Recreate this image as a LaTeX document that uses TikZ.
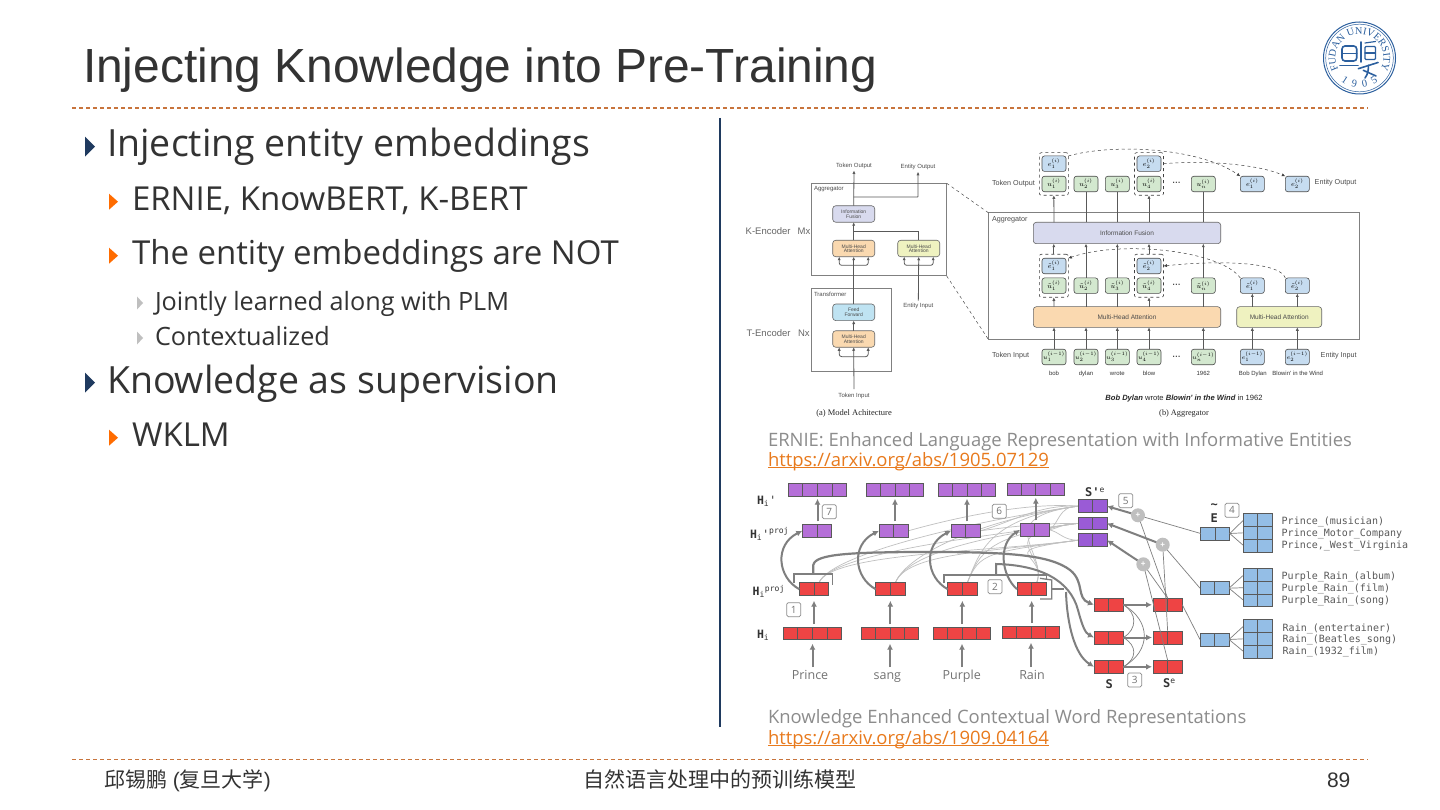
\documentclass[tikz,border=0pt]{standalone}
\usepackage[no-math]{fontspec}
\setmainfont{Open Sans}
\newfontfamily\liber{Liberation Sans}
\newfontfamily\lserif{Liberation Serif}
\newfontfamily\dmono{DejaVu Sans Mono}
\newfontfamily\cjk{Noto Sans CJK SC}
\usetikzlibrary{arrows.meta,calc,backgrounds,decorations.text,shapes.geometric}
\definecolor{ink}{HTML}{333333}
\definecolor{navy}{HTML}{1F3A5F}
\definecolor{rule}{HTML}{C8743C}
\definecolor{capg}{HTML}{8C8C8C}
\definecolor{linkc}{HTML}{E87A1D}
\definecolor{fud}{HTML}{2B5F9E}
\definecolor{lav}{HTML}{D8DAEE}
\definecolor{ora}{HTML}{FAD9B0}
\definecolor{yel}{HTML}{EFF2C0}
\definecolor{sky}{HTML}{BFE3F2}
\definecolor{gcell}{HTML}{D3E8CF}
\definecolor{bcell}{HTML}{C6DCF0}
\definecolor{redc}{HTML}{EE4444}
\definecolor{purc}{HTML}{B56FD8}
\definecolor{purd}{HTML}{9A5BD6}
\definecolor{bluc}{HTML}{94BEE6}
\definecolor{lg}{HTML}{7F7F7F}
\definecolor{lightl}{HTML}{C0C0C0}
\newcommand{\fs}[1]{\fontsize{#1}{#1}\selectfont}
\tikzset{
 x=1pt,y=-1pt,
 txt/.style={inner sep=0pt,outer sep=0pt,anchor=base west},
 l1/.style={txt,text=ink,font=\fs{37.5}},
 l2/.style={txt,text=ink,font=\fs{33}},
 l3/.style={txt,text=ink,font=\fs{25.2}},
 captxt/.style={txt,text=capg,font=\fs{18.45}},
 lnk/.style={txt,text=linkc,font=\fs{18.45}},
 foot/.style={txt,text=ink,font=\liber\fs{21}},
 sm/.style={inner sep=0pt,outer sep=0pt,text=black!70,font=\liber\fs{6}},
 smb/.style={inner sep=0pt,outer sep=0pt,text=black!70,font=\liber\fs{7.2}},
 lab/.style={inner sep=0pt,outer sep=0pt,text=black!60,font=\liber\fs{9.5}},
 tinyt/.style={inner sep=0pt,outer sep=0pt,text=black!80,font=\liber\fs{6},text height=4.5pt,text depth=1.3pt},
 rbox/.style={draw=black!60,line width=.6pt,rounded corners=3pt,inner sep=0pt,outer sep=0pt,align=center,font=\liber\fs{5},text=black!70,minimum width=42pt,minimum height=16.5pt},
 wide/.style={draw=black!60,line width=.6pt,rounded corners=3pt,inner sep=0pt,outer sep=0pt,font=\liber\fs{6.5},text=black!70},
 gc/.style={draw=black!70,line width=.6pt,fill=gcell,rounded corners=2.5pt,inner sep=0pt,outer sep=0pt,minimum width=24pt,minimum height=15.5pt,font=\fs{7}},
 bc/.style={gc,fill=bcell},
 pane/.style={draw=black!50,line width=1pt},
 wa/.style={draw=black!65,line width=.8pt,-{Latex[length=3.5pt,width=3.2pt]}},
 wl/.style={draw=black!65,line width=.8pt},
 da/.style={draw=black!75,line width=.5pt,dashed,-{Latex[length=3.5pt,width=3.2pt]}},
 dbx/.style={draw=black!75,line width=.6pt,dashed,rounded corners=2pt,inner sep=0pt,outer sep=0pt},
 ga/.style={draw=lg,line width=2pt,-{Latex[length=6pt,width=6pt]}},
 gl/.style={draw=lg,line width=1.3pt},
 gt/.style={draw=lg,line width=.7pt},
 lt/.style={draw=lightl,line width=.7pt},
 badge/.style={draw=black!45,line width=.7pt,rounded corners=1.5pt,inner sep=0pt,outer sep=0pt,minimum width=14pt,minimum height=14pt,font=\fs{10},text=black!55},
 plusn/.style={circle,fill=black!25,inner sep=0pt,outer sep=0pt,minimum size=14pt,text=white,font=\liber\bfseries\fs{8}},
 hl/.style={inner sep=0pt,outer sep=0pt,text=black!80,font=\dmono\fs{11.5}},
 ent/.style={txt,text=black!65,font=\dmono\fs{10}},
 word/.style={inner sep=0pt,outer sep=0pt,text=black!55,font=\fs{12.5},text height=9.5pt,text depth=3pt},
 seal/.style={draw=fud,line width=1.6pt,line cap=round,rounded corners=1pt},
}
\newcommand{\segbar}[8]{% name x1 y1 x2 y2 cols rows color
 \node[draw=black!65,line width=1pt,fill=#8,inner sep=0pt,outer sep=0pt,minimum width={(#4-#2)*1pt},minimum height={(#5-#3)*1pt}] (#1) at ({(#2+#4)/2},{(#3+#5)/2}) {};
 \pgfmathtruncatemacro\nc{#6-1}\pgfmathtruncatemacro\nr{#7-1}
 \ifnum\nc>0\foreach \i in {1,...,\nc}{\draw[black!65,line width=.9pt] ($(#1.north west)!\i/#6!(#1.north east)$)--($(#1.south west)!\i/#6!(#1.south east)$);}\fi
 \ifnum\nr>0\foreach \i in {1,...,\nr}{\draw[black!65,line width=.9pt] ($(#1.north west)!\i/#7!(#1.south west)$)--($(#1.north east)!\i/#7!(#1.south east)$);}\fi
}
\newcommand{\tri}[5]{\fill[#5] (#1,{#2-#4/2})--({#1+#3},#2)--(#1,{#2+#4/2})--cycle;}
\begin{document}
\begin{tikzpicture}
\useasboundingbox (0,0) rectangle (1440,810);
\begin{scope}[on background layer]\fill[white] (0,0) rectangle (1440,810);\end{scope}
% title and frame
\node[txt,text=ink,font=\liber\fs{47.9}] (title) at (83,83) {Injecting Knowledge into Pre-Training};
\coordinate (r1a) at (72,108); \coordinate (r1b) at (1368,108);
\coordinate (r2a) at (72,759); \coordinate (r2b) at (1368,759);
\draw[rule,line width=1.3pt,dash pattern=on 4pt off 3pt] (r1a)--(r1b);
\draw[rule,line width=1pt,dash pattern=on 4pt off 3pt] (r2a)--(r2b);
\coordinate (va) at (720,118); \coordinate (vb) at (720,727);
\draw[navy,line width=1.6pt] (va)--(vb);
% logo
\begin{scope}[shift={(1359.5,58)},x=1pt,y=1pt]
\draw[fud,line width=1pt] (0,0) circle (36pt);
\draw[fud,line width=.5pt] (0,0) circle (33.8pt);
\path[decorate,decoration={text along path,text={|\lserif\fs{10.3}\color{fud}|FUDAN UNIVERSITY},text align=center}] (210:24pt) arc[start angle=210,end angle=-30,radius=24pt];
\foreach \n/\a/\d in {a/237/1,b/259/9,c/281/0,d/303/5}{
 \pgfmathsetmacro\rr{\a+90}
 \node[inner sep=0pt,text=fud,font=\lserif\fs{10.5},rotate=\rr] (yr\n) at (\a:26.5pt) {\d};
}
\end{scope}
\draw[seal,rounded corners=3pt] (1342,46) rectangle (1356.7,61);
\draw[seal] (1342,53.5)--(1356.7,53.5);
\draw[seal] (1340,65.5)--(1358,65.5);
\draw[seal] (1360.7,42)--(1360.7,62);
\draw[seal,line width=1.2pt] (1365,43)--(1375.5,41.5);
\draw[seal,line width=1.2pt] (1365,46.5) rectangle (1375.5,59.5);
\draw[seal,line width=1.2pt] (1365,53)--(1375.5,53);
\draw[seal] (1358.3,68.7)--(1378,62.5);
\draw[seal] (1368.3,65.3) .. controls (1368.5,70) and (1368,74) .. (1365,78);
\draw[seal] (1363.3,70.3)--(1376,76);
% bullets
\tri{85}{146.7}{10}{20}{navy}
\node[l1] (t1) at (107,156.7) {Injecting entity embeddings};
\tri{109}{201.7}{9}{16}{orange!85!red}
\node[l2] (t2) at (132,210.7) {ERNIE, KnowBERT, K-BERT};
\tri{109}{255.7}{9}{16}{orange!85!red}
\node[l2] (t3) at (132,265) {The entity embeddings are NOT};
\tri{137}{303}{6}{13}{black!25}
\node[l3] (t4) at (155,310) {Jointly learned along with PLM};
\tri{137}{338}{6}{13}{black!25}
\node[l3] (t5) at (155,345) {Contextualized};
\tri{85}{382.7}{10}{20}{navy}
\node[l1] (t6) at (107,393) {Knowledge as supervision};
\tri{109}{437.7}{9}{16}{orange!85!red}
\node[l2] (t7) at (132,446.7) {WKLM};
% captions
\node[captxt] (c1) at (768,446) {ERNIE: Enhanced Language Representation with Informative Entities};
\node[lnk] (c2) at (768,466) {\underline{\smash{https://arxiv.org/abs/1905.07129}}};
\node[captxt] (c3) at (768,723) {Knowledge Enhanced Contextual Word Representations};
\node[lnk] (c4) at (768,744) {\underline{\smash{https://arxiv.org/abs/1909.04164}}};
% footer
\node[foot] (f1) at (104,787) {{\cjk 邱锡鹏} ({\cjk 复旦大学})};
\node[txt,text=ink,font=\cjk\fs{21}] (f2) at (583,787) {自然语言处理中的预训练模型};
\node[foot] (f3) at (1327,787) {89};

%%%%% ERNIE (a)
\node[pane,minimum width=135pt,minimum height=92.7pt,inner sep=0pt,outer sep=0pt] (agg) at (879.2,229.65) {};
\node[pane,minimum width=80pt,minimum height=82pt,inner sep=0pt,outer sep=0pt] (trf) at (851.7,330) {};
\node[sm,anchor=west] (aggt) at (814,188.7) {Aggregator};
\node[sm,anchor=west] (trft) at (814,294.5) {Transformer};
\node[rbox,fill=lav] (ifa) at (853.7,214) {Information\\[-.5pt]Fusion};
\node[rbox,fill=ora] (mh1) at (853.7,248.5) {Multi-Head\\[-.5pt]Attention};
\node[rbox,fill=yel] (mh2) at (918.7,248.5) {Multi-Head\\[-.5pt]Attention};
\node[rbox,fill=sky] (ff) at (853.7,312.3) {Feed\\[-.5pt]Forward};
\node[rbox,fill=ora] (mh3) at (853.7,339) {Multi-Head\\[-.5pt]Attention};
\node[sm] (tout) at (854,165.7) {Token Output};
\node[sm] (eout) at (918,167) {Entity Output};
\node[sm] (ein) at (918.3,306.3) {Entity Input};
\node[sm] (tin) at (854,396) {Token Input};
\node[inner sep=0pt,text=black!85,font=\lserif\fs{8.5}] (capa) at (854,413.3) {(a) Model Achitecture};
\node[lab,anchor=west] (ken) at (745.7,231) {K-Encoder};
\node[lab,anchor=west] (kmx) at (797.7,231) {Mx};
\node[lab,anchor=west] (ten) at (746.7,333) {T-Encoder};
\node[lab,anchor=west] (tnx) at (798,333) {Nx};
\draw[wa,shorten <=4pt] (tin.north)--(mh3.south);
\draw[wa] (mh3.north)--(ff.south);
\draw[wa] (ff.north)--(mh1.south);
\draw[wa] (mh1.north)--(ifa.south);
\draw[wa,shorten <=3pt] (ein.north)--(mh2.south);
\draw[wa,shorten >=2pt] (ifa.north)--(tout.south);
\coordinate (j1) at (853.7,197); \coordinate (j2) at (918.7,231); \coordinate (j3) at (853.7,231);
\draw[wa,rounded corners=.5pt,shorten >=2pt] (j1)-|(eout.south);
\draw[wl] (mh2.north)--(j2)--(j3);
\foreach \m/\d in {mh1/8.6,mh2/8.6,mh3/9.4}{
 \draw[wa,rounded corners=2.5pt] ($(\m.south)+(0,\d)$)-|($(\m.south)+(-14.5,0)$);
 \draw[wa,rounded corners=2.5pt] ($(\m.south)+(0,\d)$)-|($(\m.south)+(14.5,0)$);
}
%%%%% ERNIE (b)
\node[pane,minimum width=371pt,minimum height=126.6pt,inner sep=0pt,outer sep=0pt] (bagg) at (1173.8,276) {};
\draw[black!70,line width=.5pt,dashed] (agg.north east)--(bagg.north west);
\draw[black!70,line width=.5pt,dashed] (agg.south east)--(bagg.south west);
\node[smb,anchor=west] (bagt) at (992,219.3) {Aggregator};
\node[wide,fill=lav,minimum width=187.4pt,minimum height=21.4pt] (bif) at (1127,233) {Information Fusion};
\node[wide,fill=ora,minimum width=187.4pt,minimum height=20.6pt] (bmo) at (1127,317) {Multi-Head Attention};
\node[wide,fill=yel,minimum width=85pt,minimum height=20.6pt] (bmy) at (1279.2,317) {Multi-Head Attention};
\foreach \n/\xx/\m in {1/1054/1,2/1086/2,3/1117.3/3,4/1149/4,5/1203.3/n}{
 \node[gc] (ot\n) at (\xx,184) {$u_{\m}^{(i)}$};
 \node[gc] (mt\n) at (\xx,285.7) {$\tilde u_{\m}^{(i)}$};
 \node[gc,font=\fs{6}] (bt\n) at (\xx,357) {$u_{\m}^{(i-1)}$};
}
\foreach \n/\xx/\m in {1/1252.3/1,2/1297.3/2}{
 \node[bc] (oen\n) at (\xx,184) {$e_{\m}^{(i)}$};
 \node[bc] (men\n) at (\xx,285.7) {$\tilde e_{\m}^{(i)}$};
 \node[bc,font=\fs{6}] (ben\n) at (\xx,357) {$e_{\m}^{(i-1)}$};
}
\node[bc] (oe1) at (1054,163.7) {$e_1^{(i)}$};
\node[bc] (oe2) at (1149,163.7) {$e_2^{(i)}$};
\node[bc] (me1) at (1054,266) {$\tilde e_1^{(i)}$};
\node[bc] (me2) at (1149,266) {$\tilde e_2^{(i)}$};
\node[dbx,minimum width=29pt,minimum height=42.6pt] (dt1) at (1053.8,174) {};
\node[dbx,minimum width=29pt,minimum height=42.6pt] (dt2) at (1149,174) {};
\node[dbx,minimum width=29pt,minimum height=43pt] (dm1) at (1053.8,275.8) {};
\node[dbx,minimum width=29pt,minimum height=43pt] (dm2) at (1149,275.8) {};
\foreach \a/\b in {ot1/dt1,ot4/dt2}{\draw[wa] (\a.south |- bif.north)--(\b.south);}
\foreach \a in {ot2,ot3,ot5}{\draw[wl] (\a.south |- bif.north)--(\a.south);}
\draw[wa] (dm1.north)--(dm1.north |- bif.south);
\draw[wa] (dm2.north)--(dm2.north |- bif.south);
\foreach \a in {mt2,mt3,mt5}{\draw[wa] (\a.north)--(\a.north |- bif.south);}
\foreach \a/\b in {mt1/dm1,mt4/dm2}{\draw[wa] (\a.south |- bmo.north)--(\b.south);}
\foreach \a in {mt2,mt3,mt5}{\draw[wl] (\a.south |- bmo.north)--(\a.south);}
\foreach \a in {men1,men2}{\draw[wa] (\a.south |- bmy.north)--(\a.south);}
\foreach \a in {bt1,bt2,bt3,bt4,bt5}{\draw[wa] (\a.north)--(\a.north |- bmo.south);}
\foreach \a in {ben1,ben2}{\draw[wa] (\a.north)--(\a.north |- bmy.south);}
\draw[da] (dt1.east |- oe1.north) .. controls (1115,143) and (1200,148) .. (oen1.north west);
\draw[da] (dt2.east |- oe2) .. controls (1210,160) and (1260,165) .. (oen2.north west);
\draw[da] (men1.north west) .. controls (1220,250) and (1120,240) .. (dm1.east |- me1.north);
\draw[da] (men2.north west) .. controls (1280,262) and (1220,260) .. (dm2.east |- me2);
\node[smb,anchor=west] (bto) at (992,183.3) {Token Output};
\node[smb,anchor=west] (beo) at (1314.7,182.3) {Entity Output};
\node[smb,anchor=west] (bti) at (992,356) {Token Input};
\node[smb,anchor=west] (bei) at (1320.7,356) {Entity Input};
\node[inner sep=0pt,outer sep=0pt,font=\liber\bfseries\fs{8},text=black!80] (dotsa) at (1176.7,184) {···};
\node[inner sep=0pt,outer sep=0pt,font=\liber\bfseries\fs{8},text=black!80] (dotsb) at (1176.7,285.5) {···};
\node[inner sep=0pt,outer sep=0pt,font=\liber\bfseries\fs{8},text=black!80] (dotsc) at (1176.7,357.5) {···};
\foreach \n/\xx/\s in {a/1054/bob,b/1086/dylan,c/1117.3/wrote,d/1149/blow,e/1203.3/1962,f/1252.8/Bob Dylan,g/1297.7/Blowin' in the Wind}{
 \node[tinyt] (w\n) at (\xx,374) {\s};
}
\node[inner sep=0pt,text=black!85,font=\liber\fs{7.6}] (capb1) at (1184,399) {\textbf{\textit{Bob Dylan}} wrote \textbf{\textit{Blowin' in the Wind}} in 1962};
\node[inner sep=0pt,text=black!85,font=\lserif\fs{8.3}] (capb2) at (1184,413.3) {(b) Aggregator};

%%%%% KnowBERT panel
\segbar{hb1}{783.3}{627}{841.7}{639.7}{4}{1}{redc}
\segbar{hb2}{861.3}{627}{918.7}{639.7}{4}{1}{redc}
\segbar{hb3}{933.3}{627}{990.7}{639.7}{4}{1}{redc}
\segbar{hb4}{1002.3}{626}{1059.7}{638.7}{4}{1}{redc}
\segbar{hp1}{799.3}{582.7}{828.7}{595.7}{2}{1}{redc}
\segbar{hp2}{875.7}{582.7}{905}{595.7}{2}{1}{redc}
\segbar{hp3}{947.7}{582.7}{977}{595.7}{2}{1}{redc}
\segbar{hp4}{1017}{582.7}{1046.3}{595.7}{2}{1}{redc}
\segbar{qp1}{802.3}{524.3}{831.7}{537.3}{2}{1}{purc}
\segbar{qp2}{879}{524.3}{908.3}{537.3}{2}{1}{purc}
\segbar{qp3}{951}{524.3}{980.3}{537.3}{2}{1}{purc}
\segbar{qp4}{1020}{523.3}{1049.3}{536.3}{2}{1}{purc}
\segbar{qb1}{788.3}{483.7}{846.7}{496.7}{4}{1}{purc}
\segbar{qb2}{866.3}{483.7}{923.7}{496.7}{4}{1}{purc}
\segbar{qb3}{938.3}{483.7}{995.7}{496.7}{4}{1}{purc}
\segbar{qb4}{1007.3}{483}{1064.3}{495.7}{4}{1}{purc}
\segbar{sp1}{1078}{499.7}{1107}{512.7}{2}{1}{purd}
\segbar{sp2}{1078}{517}{1107}{529.7}{2}{1}{purd}
\segbar{sp3}{1078}{533.7}{1107}{546.7}{2}{1}{purd}
\segbar{s1}{1094}{598.3}{1123.3}{611.3}{2}{1}{redc}
\segbar{s2}{1094}{631}{1123.3}{644}{2}{1}{redc}
\segbar{s3}{1094}{660.3}{1123.3}{673.3}{2}{1}{redc}
\segbar{se1}{1153}{598.3}{1182.3}{611.3}{2}{1}{redc}
\segbar{se2}{1153}{631}{1182.3}{644}{2}{1}{redc}
\segbar{se3}{1153}{660.3}{1182.3}{673.3}{2}{1}{redc}
\segbar{e1}{1200.7}{527}{1229.7}{540}{2}{1}{bluc}
\segbar{e2}{1200}{581.7}{1229}{594.7}{2}{1}{bluc}
\segbar{e3}{1200}{633}{1229}{646}{2}{1}{bluc}
\segbar{m1}{1243}{513.7}{1272.3}{552}{2}{3}{bluc}
\segbar{m2}{1243}{568.7}{1272.3}{606.7}{2}{3}{bluc}
\segbar{m3}{1243}{619.7}{1272.3}{658}{2}{3}{bluc}
\begin{scope}[on background layer]
\foreach \i in {1,2,3,4}{\foreach \j in {1,2,3}{
 \draw[lt] ($(hp\i.north)+(5,0)$) .. controls +(12,-30) and +(-90,12) .. (sp\j.west);
}}
\draw[lt] (qp2.east) .. controls +(50,-14) and +(-50,-4) .. (sp1.west);
\draw[lt] (qp3.east) .. controls +(30,-8) and +(-40,-2) .. (sp1.west);
\draw[lt] (qp3.east) .. controls +(30,-4) and +(-40,0) .. (sp2.west);
\draw[lt] (qp4.east) .. controls +(10,-6) and +(-20,0) .. (sp1.west);
\draw[lt] (qp4.east) .. controls +(10,-2) and +(-15,0) .. (sp2.west);
\draw[lt] (qp4.east) .. controls +(10,2) and +(-15,0) .. (sp3.west);
\end{scope}
\foreach \n/\xx/\s in {1/810/Prince,2/887.3/sang,3/961.7/Purple,4/1032/Rain}{
 \node[word] (wd\n) at (\xx,676.3) {\s};
 \draw[ga,shorten <=3pt,shorten >=4pt] (hb\n.south |- wd\n.north)--(hb\n.south);
 \draw[ga,shorten <=3pt,shorten >=5pt] (hp\n.south |- hb\n.north)--(hp\n.south);
 \draw[ga,shorten <=3pt,shorten >=2pt] (qb\n.south |- qp\n.north)--(qb\n.south);
}
\draw[ga] (hp1.west) .. controls +(-22,-12) and +(-28,14) .. (qp1.west);
\draw[ga] (hp2.west) .. controls +(-22,-12) and +(-28,14) .. (qp2.west);
\draw[ga] (hp3.west) .. controls +(-22,-12) and +(-28,14) .. (qp3.west);
\draw[ga] (hp4.west) .. controls +(-16,-14) and +(-22,14) .. (qp4.west);
\node[hl,anchor=west] (lhq) at (757,501.7) {\textbf{H}\textsubscript{i}'};
\node[hl,anchor=west] (lhqp) at (750,534) {\textbf{H}\textsubscript{i}'\textsuperscript{proj}};
\node[hl,anchor=west] (lhp) at (752.7,591.7) {\textbf{H}\textsubscript{i}\textsuperscript{proj}};
\node[hl,anchor=west] (lh) at (757,635) {\textbf{H}\textsubscript{i}};
\node[badge] (b1) at (793.7,609.7) {1};
\node[badge] (b7) at (829.3,511.7) {7};
\node[badge,fill=white] (b6) at (999.3,511.3) {6};
\node[badge] (b2) at (995,586.7) {2};
\node[badge] (b5) at (1125.7,500.7) {5};
\node[badge] (b4) at (1232,510.3) {4};
\node[badge] (b3) at (1134.7,680) {3};
% braces
\coordinate (ba) at (794,583.3); \coordinate (bb) at (794,574); \coordinate (bc) at (832.7,574); \coordinate (bd) at (832.7,585);
\draw[gl] (ba)--(bb)--(bc)--(bd);
\coordinate (bm) at (813.3,574); \coordinate (bt) at (813.3,565);
\coordinate (ca) at (944,583.3); \coordinate (cb) at (944,575); \coordinate (cc) at (1046.7,575); \coordinate (cd) at (1046.7,580);
\draw[gl] (ca)--(cb)--(cc)--(cd);
\coordinate (cm) at (996,575); \coordinate (ct) at (996,564);
\coordinate (da) at (1040,578.3); \coordinate (db) at (1051.7,580); \coordinate (dc) at (1051.7,599); \coordinate (dd) at (1040,599);
\draw[gl] (da)--(db)--(dc)--(dd);
\coordinate (dm) at (1051.7,589); \coordinate (dt) at (1064,589);
\draw[gl] (dm)--(dt);
\coordinate (ds) at (1066,592);
\draw[ga,line width=2.2pt] (bm)--(bt) .. controls (815,554) and (850,552) .. (930,552) .. controls (1010,552) and (1050,555) .. (1070,570) .. controls (1085,582) and (1076,598) .. (s1.west);
\draw[ga] (cm)--(ct) .. controls (1040,565) and (1070,580) .. (1078,610) .. controls (1082,625) and (1085,633) .. (s2.west);
\draw[ga] (ds) .. controls (1067,625) and (1075,655) .. (s3.west);
% S to Se
\foreach \i in {1,2,3}{\draw[ga,shorten >=1pt] (s\i.east)--(se\i.west);}
\draw[gt] (s1.east) .. controls +(28,16) and +(28,-16) .. (s3.east);
\draw[gt] (s1.east) .. controls +(14,8) and +(14,-8) .. (s2.east);
\draw[gt] (s2.east) .. controls +(14,8) and +(14,-8) .. (s3.east);
% plus
\node[plusn] (p1) at (1138,515.3) {+};
\node[plusn] (p2) at (1162.7,544.7) {+};
\node[plusn] (p3) at (1143.3,564.3) {+};
\draw[ga] (p1)--(sp1.east);
\draw[ga] (p2)--(sp2.east);
\draw[ga] (p3)--(sp3.east);
\draw[gt] (e1.west)--(p1);
\draw[gt] (e2.west)--(p2);
\draw[gt] (e3.west)--(se1.east);
\draw[gt] (p1)--(se1.north);
\draw[gt] (p2)--(se2.north);
\draw[gt] (p3)--(se3.north);
\draw[gt] (p3)--(se1.north);
\foreach \i in {1,2,3}{
 \draw[gt] (e\i.east)--($(m\i.north west)!.18!(m\i.south west)$);
 \draw[gt] (e\i.east)--(m\i.west);
 \draw[gt] (e\i.east)--($(m\i.north west)!.82!(m\i.south west)$);
}
\node[hl,font=\dmono\bfseries\fs{12}] (lsp) at (1095,492.3) {S'\textsuperscript{\textmd{e}}};
\node[hl,font=\dmono\bfseries\fs{12}] (ls) at (1109.3,684.3) {S};
\node[hl,font=\dmono\bfseries\fs{12}] (lse) at (1169.3,683.3) {S\textsuperscript{\textmd{e}}};
\node[hl,font=\dmono\bfseries\fs{12}] (leb) at (1214.3,518.3) {E};
\node[hl,font=\dmono\bfseries\fs{12}] (let) at (1214.3,506) {\textasciitilde};
\foreach \n/\yy/\s in {a/524.5/Prince\_(musician),b/536/Prince\_Motor\_Company,c/548/{Prince,\_West\_Virginia},d/579.5/Purple\_Rain\_(album),e/591/Purple\_Rain\_(film),f/603/Purple\_Rain\_(song)}{
 \node[ent] (en\n) at (1281.7,\yy) {\s};
}
\foreach \n/\yy/\s in {g/631/Rain\_(entertainer),h/642.5/Rain\_(Beatles\_song),i/654.5/Rain\_(1932\_film)}{
 \node[ent] (en\n) at (1282.7,\yy) {\s};
}
\end{tikzpicture}
\end{document}
